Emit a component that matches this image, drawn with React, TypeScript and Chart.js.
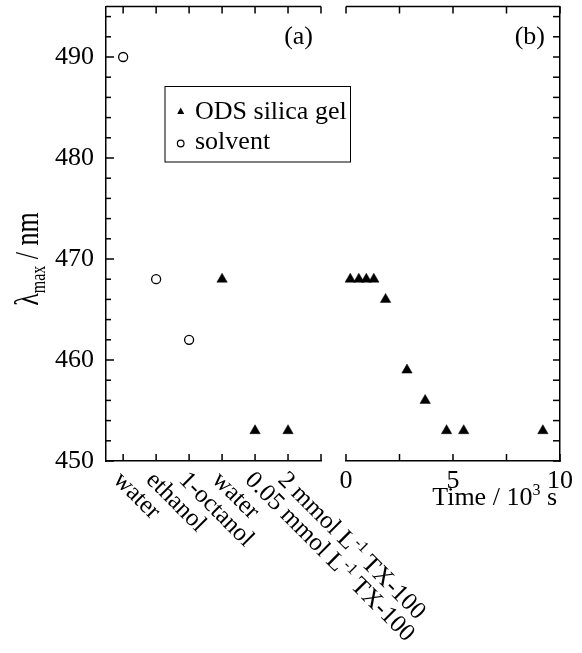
import React, { useEffect, useRef } from 'react';
import { Chart, registerables } from 'chart.js';
Chart.register(...registerables);

// ---------- data ----------
const categories = ['water', 'ethanol', '1-octanol', 'water', '0.05 mmol L⁻¹ TX-100', '2 mmol L⁻¹ TX-100'];
const solventA = [490, 468, 462, null, null, null];
const odsA = [null, null, null, 468, 453, 453];
const timeB = [0.2, 0.6, 0.95, 1.3, 1.85, 2.85, 3.7, 4.7, 5.5, 9.2];
const odsB = [468, 468, 468, 468, 466, 459, 456, 453, 453, 453];
const yTickLabels = [450, 460, 470, 480, 490];
const xTickLabelsB = [0, 5, 10];
const xMinorB = [0, 2.5, 5, 7.5, 10];
const legendLabels = ['ODS silica gel', 'solvent'];

const FONT = "'Liberation Serif', 'Times New Roman', serif";
const W = 582;
const H = 653;

const SUP: Record<string, string> = { '⁻': '-', '¹': '1', '²': '2', '³': '3' };

function drawRich(ctx: CanvasRenderingContext2D, text: string, x: number, y: number, size: number, align: string = 'left') {
  const segs: { t: string; sup: boolean; w: number }[] = [];
  let cur = '';
  let curSup = false;
  for (const ch of text) {
    const s = ch in SUP;
    if (s !== curSup && cur) {
      segs.push({ t: cur, sup: curSup, w: 0 });
      cur = '';
    }
    curSup = s;
    cur += s ? SUP[ch] : ch;
  }
  if (cur) segs.push({ t: cur, sup: curSup, w: 0 });
  const supSize = Math.round(size * 0.62);
  let total = 0;
  for (const s of segs) {
    ctx.font = `${s.sup ? supSize : size}px ${FONT}`;
    s.w = ctx.measureText(s.t).width;
    total += s.w;
  }
  let cx = align === 'right' ? x - total : align === 'center' ? x - total / 2 : x;
  ctx.textAlign = 'left';
  ctx.textBaseline = 'alphabetic';
  for (const s of segs) {
    ctx.font = `${s.sup ? supSize : size}px ${FONT}`;
    ctx.fillText(s.t, cx, s.sup ? y - size * 0.38 : y);
    cx += s.w;
  }
}

function line(ctx: CanvasRenderingContext2D, x1: number, y1: number, x2: number, y2: number) {
  ctx.beginPath();
  ctx.moveTo(x1, y1);
  ctx.lineTo(x2, y2);
  ctx.stroke();
}

function zeroPad(s: any) {
  s.paddingTop = 0;
  s.paddingBottom = 0;
  s.paddingLeft = 0;
  s.paddingRight = 0;
}

const triStyle = {
  pointStyle: 'triangle',
  pointRadius: 6,
  pointBackgroundColor: '#000',
  pointBorderColor: '#000',
  pointBorderWidth: 0.5,
};
const circStyle = {
  pointStyle: 'circle',
  pointRadius: 4.5,
  pointBackgroundColor: '#fff',
  pointBorderColor: '#000',
  pointBorderWidth: 1.3,
};

const axisBorder = { display: true, color: '#000', width: 1.5 };
const noGrid = { display: false, drawTicks: false };

const plotA = {
  id: 'plotA',
  afterDraw(chart: any) {
    const { ctx, chartArea: a, scales } = chart;
    const x = scales.x;
    const y = scales.y;
    ctx.save();
    ctx.strokeStyle = '#000';
    ctx.lineWidth = 1.5;
    line(ctx, a.left, a.top, a.right, a.top);
    for (let v = 450; v < 495; v += 2) {
      const py = y.getPixelForValue(v);
      line(ctx, a.left, py, a.left + (v % 10 === 0 ? 8 : 5), py);
    }
    for (let i = 0; i <= categories.length; i++) {
      const px = x.getPixelForValue(i);
      line(ctx, px, a.bottom, px, a.bottom - 7);
      line(ctx, px, a.top, px, a.top + 7);
    }
    ctx.fillStyle = '#000';
    categories.forEach((c, i) => {
      const px = x.getPixelForValue(i);
      ctx.save();
      ctx.translate(px - 11, a.bottom + 20);
      ctx.rotate(Math.PI / 4);
      drawRich(ctx, c, 0, 0, 25);
      ctx.restore();
    });
    // panel label
    drawRich(ctx, '(a)', 313, 44, 26, 'right');
    // legend
    ctx.lineWidth = 1;
    ctx.strokeRect(165, 86.5, 185.5, 75.5);
    ctx.beginPath();
    ctx.moveTo(180.7, 107.5);
    ctx.lineTo(184.2, 114);
    ctx.lineTo(177.2, 114);
    ctx.closePath();
    ctx.fill();
    ctx.lineWidth = 1.2;
    ctx.beginPath();
    ctx.arc(180.7, 143.5, 3.3, 0, Math.PI * 2);
    ctx.stroke();
    drawRich(ctx, legendLabels[0], 195, 119, 26);
    drawRich(ctx, legendLabels[1], 195, 149, 26);
    // y title
    ctx.save();
    ctx.translate(38, 259);
    ctx.rotate(-Math.PI / 2);
    ctx.scale(1, 1.3);
    const segs = [
      { t: 'λ', s: 26, dy: 0 },
      { t: 'max', s: 16, dy: 5.5 },
      { t: ' / nm', s: 26, dy: 0 },
    ];
    let tot = 0;
    const ws = segs.map((g) => {
      ctx.font = `${g.s}px ${FONT}`;
      const w = ctx.measureText(g.t).width;
      tot += w;
      return w;
    });
    let cx = -tot / 2;
    ctx.textAlign = 'left';
    ctx.textBaseline = 'alphabetic';
    segs.forEach((g, i) => {
      ctx.font = `${g.s}px ${FONT}`;
      ctx.fillText(g.t, cx, g.dy);
      cx += ws[i];
    });
    ctx.restore();
    ctx.restore();
  },
};

const plotB = {
  id: 'plotB',
  afterDraw(chart: any) {
    const { ctx, chartArea: a, scales } = chart;
    const x = scales.x;
    const y = scales.y;
    ctx.save();
    ctx.strokeStyle = '#000';
    ctx.lineWidth = 1.5;
    line(ctx, a.left, a.top, a.right, a.top);
    for (let v = 450; v < 495; v += 2) {
      const py = y.getPixelForValue(v);
      line(ctx, a.right, py, a.right - 7, py);
    }
    xMinorB.forEach((v) => {
      const px = x.getPixelForValue(v);
      line(ctx, px, a.bottom, px, a.bottom - 7);
      line(ctx, px, a.top, px, a.top + 7);
    });
    ctx.fillStyle = '#000';
    drawRich(ctx, '(b)', 545, 44, 26, 'right');
    drawRich(ctx, 'Time / 10³ s', 557, 505, 26, 'right');
    ctx.restore();
  },
};

export default function App() {
  const refA = useRef<HTMLCanvasElement>(null);
  const refB = useRef<HTMLCanvasElement>(null);

  useEffect(() => {
    const dataSolvent = solventA
      .map((v, i) => (v === null ? null : { x: i, y: v }))
      .filter((p) => p !== null);
    const dataOdsA = odsA
      .map((v, i) => (v === null ? null : { x: i, y: v }))
      .filter((p) => p !== null);
    const dataOdsB = timeB.map((t, i) => ({ x: t, y: odsB[i] }));

    const chartA = new Chart(refA.current as HTMLCanvasElement, {
      type: 'scatter',
      data: {
        datasets: [
          { label: legendLabels[0], data: dataOdsA as any, ...triStyle, clip: false } as any,
          { label: legendLabels[1], data: dataSolvent as any, ...circStyle, clip: false } as any,
        ],
      },
      options: {
        animation: false,
        responsive: false,
        devicePixelRatio: 1,
        layout: { padding: { left: 0, top: 5, right: W - 321, bottom: 0 } },
        plugins: { legend: { display: false }, tooltip: { enabled: false } },
        scales: {
          x: {
            type: 'linear',
            position: 'bottom',
            min: -0.52,
            max: categories.length,
            grid: noGrid,
            border: axisBorder,
            ticks: { display: false, stepSize: 1 },
            afterFit: (s: any) => {
              s.height = H - 461;
              zeroPad(s);
            },
          },
          y: {
            type: 'linear',
            position: 'left',
            min: 450,
            max: 495,
            grid: noGrid,
            border: axisBorder,
            ticks: {
              stepSize: 10,
              autoSkip: false,
              padding: 12,
              color: '#000',
              font: { family: FONT, size: 26 },
              callback: (v: any) => (yTickLabels.includes(Number(v)) ? String(v) : ''),
            },
            afterFit: (s: any) => {
              s.width = 106;
              zeroPad(s);
            },
          },
        },
      } as any,
      plugins: [plotA],
    });

    const chartB = new Chart(refB.current as HTMLCanvasElement, {
      type: 'scatter',
      data: {
        datasets: [{ label: legendLabels[0], data: dataOdsB, ...triStyle, clip: false } as any],
      },
      options: {
        animation: false,
        responsive: false,
        devicePixelRatio: 1,
        layout: { padding: { left: 346, top: 5, right: 0, bottom: 0 } },
        plugins: { legend: { display: false }, tooltip: { enabled: false } },
        scales: {
          x: {
            type: 'linear',
            position: 'bottom',
            min: 0,
            max: 10,
            grid: noGrid,
            border: axisBorder,
            ticks: {
              stepSize: 5,
              autoSkip: false,
              padding: 5,
              maxRotation: 0,
              color: '#000',
              font: { family: FONT, size: 26 },
              callback: (v: any) => (xTickLabelsB.includes(Number(v)) ? String(v) : ''),
            },
            afterFit: (s: any) => {
              s.height = H - 461;
              zeroPad(s);
            },
          },
          y: {
            type: 'linear',
            position: 'right',
            min: 450,
            max: 495,
            grid: noGrid,
            border: axisBorder,
            ticks: { display: false },
            afterFit: (s: any) => {
              s.width = W - 560;
              zeroPad(s);
            },
          },
        },
      } as any,
      plugins: [plotB],
    });

    return () => {
      chartA.destroy();
      chartB.destroy();
    };
  }, []);

  return (
    <div style={{ position: 'fixed', left: 0, top: 0, width: W, height: H, background: '#fff' }}>
      <canvas ref={refA} width={W} height={H} style={{ position: 'absolute', left: 0, top: 0 }} />
      <canvas ref={refB} width={W} height={H} style={{ position: 'absolute', left: 0, top: 0 }} />
    </div>
  );
}
